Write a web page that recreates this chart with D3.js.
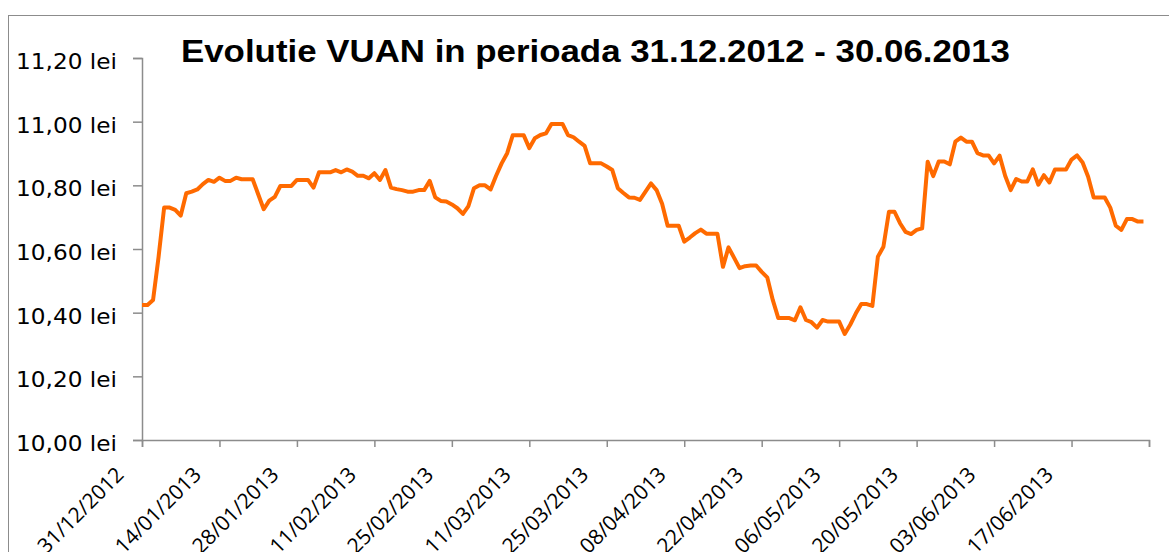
<!DOCTYPE html>
<html>
<head>
<meta charset="utf-8">
<script src="https://cdn.jsdelivr.net/npm/d3@7"></script>
<style>
  body { margin: 0; background: #fff; }
</style>
</head>
<body>
<div id="chart"></div>
<script>
// VUAN values, one per calendar day starting at startDate
var startDate = "31/12/2012";
var endDate = "01/07/2013";
var vuan = [
  10.424, 10.424, 10.440, 10.576, 10.730, 10.730, 10.723, 10.705, 10.775, 10.780,
  10.787, 10.804, 10.817, 10.811, 10.824, 10.814, 10.814, 10.824, 10.819, 10.819,
  10.819, 10.772, 10.725, 10.752, 10.764, 10.798, 10.798, 10.798, 10.817, 10.817,
  10.817, 10.793, 10.841, 10.841, 10.841, 10.848, 10.841, 10.850, 10.843, 10.830,
  10.830, 10.822, 10.838, 10.817, 10.848, 10.793, 10.788, 10.785, 10.780, 10.780,
  10.785, 10.785, 10.814, 10.762, 10.751, 10.749, 10.740, 10.728, 10.710, 10.735,
  10.791, 10.800, 10.800, 10.787, 10.830, 10.869, 10.901, 10.957, 10.957, 10.957,
  10.917, 10.948, 10.958, 10.963, 10.993, 10.993, 10.993, 10.958, 10.951, 10.937,
  10.924, 10.869, 10.869, 10.869, 10.859, 10.848, 10.791, 10.776, 10.762, 10.761,
  10.754, 10.780, 10.806, 10.785, 10.742, 10.673, 10.673, 10.673, 10.623, 10.636,
  10.650, 10.661, 10.648, 10.648, 10.648, 10.544, 10.605, 10.573, 10.540, 10.546,
  10.548, 10.548, 10.528, 10.511, 10.440, 10.383, 10.383, 10.383, 10.376, 10.417,
  10.377, 10.370, 10.353, 10.377, 10.372, 10.372, 10.372, 10.333, 10.362, 10.397,
  10.427, 10.427, 10.421, 10.576, 10.607, 10.717, 10.717, 10.681, 10.654, 10.647,
  10.660, 10.665, 10.874, 10.829, 10.875, 10.875, 10.866, 10.937, 10.950, 10.937,
  10.937, 10.901, 10.894, 10.894, 10.869, 10.893, 10.830, 10.785, 10.820, 10.812,
  10.812, 10.850, 10.802, 10.832, 10.809, 10.850, 10.850, 10.850, 10.881, 10.894,
  10.872, 10.827, 10.762, 10.762, 10.762, 10.730, 10.673, 10.660, 10.694, 10.694,
  10.686, 10.686
];
var xTickLabels = ["31/12/2012", "14/01/2013", "28/01/2013", "11/02/2013", "25/02/2013",
  "11/03/2013", "25/03/2013", "08/04/2013", "22/04/2013", "06/05/2013",
  "20/05/2013", "03/06/2013", "17/06/2013"];
var yTicks = [10.0, 10.2, 10.4, 10.6, 10.8, 11.0, 11.2];
var title = "Evolutie VUAN in perioada 31.12.2012 - 30.06.2013";

var W = 1169, H = 552;
var margin = {top: 58, right: 20, bottom: 112, left: 142};
var width = 1149 - margin.left,
    height = 440 - margin.top;

var parseDate = d3.utcParse("%d/%m/%Y");
var t0 = parseDate(startDate);

var data = vuan.map(function(v, i) {
  return {date: d3.utcDay.offset(t0, i), value: v};
});

var svg = d3.select("#chart").append("svg")
    .attr("width", W)
    .attr("height", H);

// chart area border
svg.append("rect")
    .attr("x", 8.5).attr("y", 15.5)
    .attr("width", W + 20).attr("height", H + 20)
    .attr("fill", "none")
    .attr("stroke", "#8c8c8c")
    .attr("stroke-width", 1);

var g = svg.append("g")
    .attr("transform", "translate(" + margin.left + "," + margin.top + ")");

var xScale = d3.scaleUtc()
    .domain([t0, parseDate(endDate)])
    .range([0, width]);

var yScale = d3.scaleLinear()
    .domain([10.0, 11.2])
    .range([height, 0]);

var tickDates = xTickLabels.map(parseDate).concat([parseDate(endDate)]);

// x axis
var xAxis = g.append("g")
    .attr("transform", "translate(0," + height + ")")
    .call(d3.axisBottom(xScale).tickValues(tickDates).tickSize(7).tickFormat(""));

xAxis.select(".domain").attr("stroke", "#8c8c8c").attr("stroke-width", 1.5);
xAxis.selectAll(".tick line").attr("stroke", "#8c8c8c").attr("stroke-width", 1.5);

g.selectAll(".xlabel")
    .data(xTickLabels)
    .enter().append("text")
    .attr("class", "xlabel")
    .attr("transform", function(d) {
      return "translate(" + (xScale(parseDate(d)) - 17) + "," + (height + 36) + ") rotate(-45)";
    })
    .attr("text-anchor", "end")
    .attr("font-family", "'Open Sans', sans-serif")
    .attr("font-size", 21)
    .attr("fill", "#000")
    .text(function(d) { return d; });

// y axis
var yAxis = g.append("g")
    .call(d3.axisLeft(yScale).tickValues(yTicks).tickSize(9).tickFormat(""));

yAxis.select(".domain").attr("stroke", "#8c8c8c").attr("stroke-width", 1.5);
yAxis.selectAll(".tick line").attr("stroke", "#8c8c8c").attr("stroke-width", 1.5);

var fmt = d3.format(".2f");
g.selectAll(".ylabel")
    .data(yTicks)
    .enter().append("text")
    .attr("class", "ylabel")
    .attr("x", -126)
    .attr("y", function(d) { return yScale(d) + 11; })
    .attr("font-family", "'DejaVu Sans', sans-serif")
    .attr("font-size", 22)
    .attr("textLength", 101)
    .attr("lengthAdjust", "spacingAndGlyphs")
    .attr("fill", "#000")
    .text(function(d) { return fmt(d).replace(".", ",") + " lei"; });

// line
var line = d3.line()
    .x(function(d) { return xScale(d.date); })
    .y(function(d) { return yScale(d.value); });

g.append("path")
    .datum(data)
    .attr("fill", "none")
    .attr("stroke", "#ff6a00")
    .attr("stroke-width", 4)
    .attr("stroke-linejoin", "round")
    .attr("d", line);

// title
svg.append("text")
    .attr("x", 181)
    .attr("y", 62)
    .attr("font-family", "'Liberation Sans', Arial, sans-serif")
    .attr("font-weight", "bold")
    .attr("font-size", 31)
    .attr("textLength", 829)
    .attr("lengthAdjust", "spacingAndGlyphs")
    .attr("fill", "#000")
    .text(title);
</script>
</body>
</html>
